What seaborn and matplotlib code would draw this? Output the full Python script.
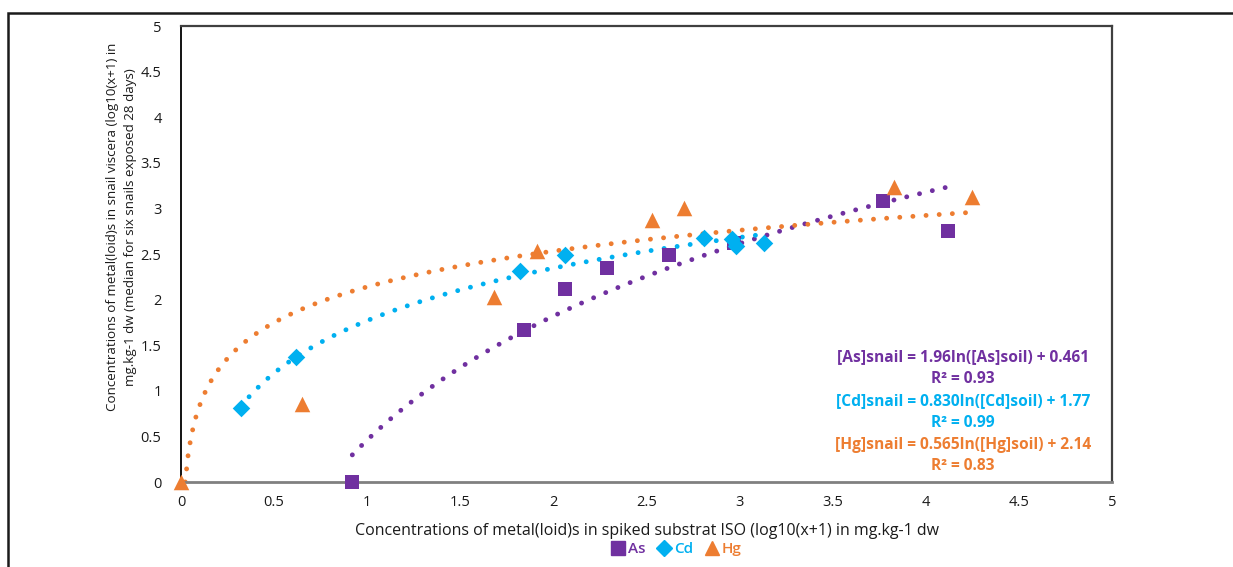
import numpy as np
import pandas as pd
import matplotlib
matplotlib.use("Agg")
import matplotlib.pyplot as plt
from matplotlib.patches import Rectangle
from matplotlib.lines import Line2D
import seaborn as sns

# measured points (log10(x+1) soil vs snail)
as_soil = [0.92, 1.84, 2.06, 2.29, 2.62, 2.97, 3.77, 4.12]
as_snail = [0.0, 1.67, 2.12, 2.35, 2.49, 2.62, 3.08, 2.75]
cd_soil = [0.32, 0.62, 1.82, 2.06, 2.81, 2.96, 2.98, 3.13]
cd_snail = [0.81, 1.37, 2.31, 2.49, 2.68, 2.67, 2.59, 2.62]
hg_soil = [0.0, 0.65, 1.68, 1.91, 2.53, 2.70, 3.83, 4.25]
hg_snail = [0.0, 0.85, 2.03, 2.53, 2.87, 3.00, 3.24, 3.12]

# log trendline coefficients shown on the chart: slope, intercept, r2
metals = ["As", "Cd", "Hg"]
slopes = [1.96, 0.830, 0.565]
intercepts = [0.461, 1.77, 2.14]
r2 = [0.93, 0.99, 0.83]
slope_txt = ["1.96", "0.830", "0.565"]
int_txt = ["0.461", "1.77", "2.14"]

colors = ["#7030A0", "#00B0F0", "#ED7D31"]
markers = ["s", "D", "^"]
msizes = [115, 80, 125]

sns.set_style("white")
plt.rcParams["font.family"] = ["Open Sans", "DejaVu Sans"]

fig = plt.figure(figsize=(12.33, 5.67), dpi=100)
ax = fig.add_axes([0.1468, 0.1499, 0.7551, 0.8042])

xs = [as_soil, cd_soil, hg_soil]
ys = [as_snail, cd_snail, hg_snail]

# trendlines first (drawn under markers)
for i in range(3):
    x0 = max(min(xs[i]), np.exp(-intercepts[i] / slopes[i]))
    xx = np.linspace(x0, max(xs[i]), 300)
    yy = slopes[i] * np.log(xx) + intercepts[i]
    ax.plot(xx, yy, color=colors[i], lw=3.5, linestyle=(0, (0.01, 2.7)),
            dash_capstyle="round", zorder=2)

for i in range(3):
    df = pd.DataFrame({"x": xs[i], "y": ys[i]})
    sns.scatterplot(data=df, x="x", y="y", ax=ax, color=colors[i],
                    marker=markers[i], s=msizes[i], linewidth=0, zorder=3,
                    clip_on=False)

ax.set_xlim(0, 5)
ax.set_ylim(0, 5)
ax.set_xticks(np.arange(0, 5.01, 0.5))
ax.set_yticks(np.arange(0, 5.01, 0.5))
ax.set_xticklabels(["0", "0.5", "1", "1.5", "2", "2.5", "3", "3.5", "4", "4.5", "5"])
ax.set_yticklabels(["0", "0.5", "1", "1.5", "2", "2.5", "3", "3.5", "4", "4.5", "5"])
ax.tick_params(axis="both", labelsize=10.5, colors="#1a1a1a", length=0)
ax.tick_params(axis="x", pad=9)
ax.tick_params(axis="y", pad=14)

for side in ["top", "right"]:
    ax.spines[side].set_color("#404040")
    ax.spines[side].set_linewidth(1.6)
ax.spines["bottom"].set_color("#808080")
ax.spines["bottom"].set_linewidth(2)
ax.spines["left"].set_color("#000000")
ax.spines["left"].set_linewidth(1.3)

ax.set_xlabel("Concentrations of metal(loid)s in spiked substrat ISO (log10(x+1) in mg.kg-1 dw",
              fontsize=11.5, color="#1a1a1a", labelpad=10)
ax.set_ylabel("Concentrations of metal(loid)s in snail viscera (log10(x+1) in\n"
              "mg.kg-1 dw (median for six snails exposed 28 days)",
              fontsize=9.6, color="#1a1a1a", linespacing=1.5)
ax.yaxis.set_label_coords(-0.047, 0.56)

# equations
eq_y = [0.273, 0.226, 0.177, 0.130, 0.081, 0.035]
for i in range(3):
    ax.text(0.84, eq_y[2 * i],
            f"[{metals[i]}]snail = {slope_txt[i]}ln([{metals[i]}]soil) + {int_txt[i]}",
            transform=ax.transAxes, ha="center", va="center", fontsize=11.2,
            fontweight="bold", color=colors[i])
    ax.text(0.84, eq_y[2 * i + 1], f"R² = {r2[i]:.2f}",
            transform=ax.transAxes, ha="center", va="center", fontsize=11.2,
            fontweight="bold", color=colors[i])

handles = [Line2D([], [], linestyle="none", marker=markers[i], color=colors[i],
                  markersize=[10, 8.5, 10][i]) for i in range(3)]
leg = fig.legend(handles, metals, loc="center", bbox_to_anchor=(0.549, 0.031),
                 ncol=3, frameon=False, handlelength=0.8,
                 handletextpad=0.25, columnspacing=0.8,
                 prop={"weight": "semibold", "size": 11})
for t, c in zip(leg.get_texts(), colors):
    t.set_color(c)

# outer chart frame
fig.patches.append(Rectangle((8 / 1233, -0.1), 1.2, 1 - 13 / 567 + 0.1,
                             transform=fig.transFigure, fill=False,
                             edgecolor="#1a1a1a", linewidth=1.8))

fig.savefig("out.png", dpi=100)
